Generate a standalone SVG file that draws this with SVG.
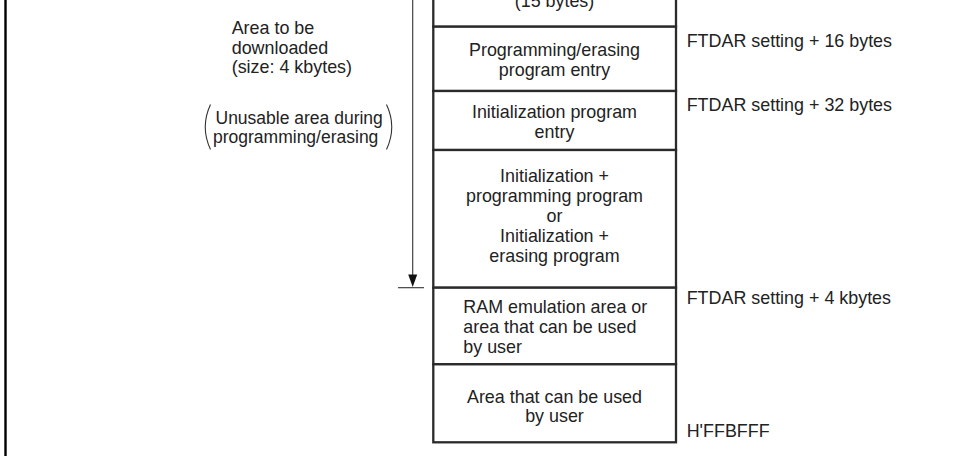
<svg xmlns="http://www.w3.org/2000/svg" width="969" height="456" viewBox="0 0 969 456">
<style>
text{font-family:"Liberation Sans",Arial,sans-serif;font-size:17.9px;fill:#222}
.c{text-anchor:middle}
.s{font-size:17.5px}
.box{fill:#fff;stroke:#2a2a2a;stroke-width:2.3}
.thin{stroke:#333;stroke-width:1.1;fill:none}
</style>
<rect width="969" height="456" fill="#fff"/>
<line x1="5.5" y1="0" x2="5.5" y2="456" stroke="#000" stroke-width="2.4"/>

<g id="connectors">
<line class="thin" x1="412.7" y1="0" x2="412.7" y2="276"/>
<polygon points="408.2,274.5 417.2,274.5 412.7,287" fill="#111"/>
<line class="thin" x1="398" y1="287.7" x2="424" y2="287.7"/>
<path class="thin" d="M210.5,104.5 Q200,127 210.5,149.5"/>
<path class="thin" d="M386.5,104.5 Q397,127 386.5,149.5"/>
</g>

<g id="cell-15bytes">
<rect class="box" x="433.3" y="-5" width="242.7" height="31.7"/>
<text class="c" x="554.5" y="7">(15 bytes)</text>
</g>
<g id="cell-prog-entry">
<rect class="box" x="433.3" y="26.7" width="242.7" height="64.3"/>
<text class="c" x="554.5" y="56">Programming/erasing</text>
<text class="c" x="554.5" y="76">program entry</text>
</g>
<g id="cell-init-entry">
<rect class="box" x="433.3" y="91" width="242.7" height="59"/>
<text class="c" x="554.5" y="118">Initialization program</text>
<text class="c" x="554.5" y="137.5">entry</text>
</g>
<g id="cell-programs">
<rect class="box" x="433.3" y="150" width="242.7" height="137.7"/>
<text class="c" x="554.5" y="181.7">Initialization +</text>
<text class="c" x="554.5" y="201.7">programming program</text>
<text class="c" x="554.5" y="221.7">or</text>
<text class="c" x="554.5" y="241.7">Initialization +</text>
<text class="c" x="554.5" y="261.7">erasing program</text>
</g>
<g id="cell-ram">
<rect class="box" x="433.3" y="287.7" width="242.7" height="76.6"/>
<text x="463.3" y="313.3">RAM emulation area or</text>
<text x="463.3" y="333.3">area that can be used</text>
<text x="463.3" y="352.7">by user</text>
</g>
<g id="cell-user">
<rect class="box" x="433.3" y="364.3" width="242.7" height="78"/>
<text class="c" x="554.5" y="403">Area that can be used</text>
<text class="c" x="554.5" y="421.7">by user</text>
</g>

<g id="labels-right">
<text x="686.7" y="46.7">FTDAR setting + 16 bytes</text>
<text x="686.7" y="110.7">FTDAR setting + 32 bytes</text>
<text x="686.7" y="304">FTDAR setting + 4 kbytes</text>
<text x="686.7" y="436.7">H'FFBFFF</text>
</g>

<g id="labels-left">
<text x="231.7" y="34">Area to be</text>
<text x="231.7" y="53.5">downloaded</text>
<text x="231.7" y="73">(size: 4 kbytes)</text>
<text class="s" x="215.5" y="123.5">Unusable area during</text>
<text class="s" x="213" y="143">programming/erasing</text>
</g>
</svg>
